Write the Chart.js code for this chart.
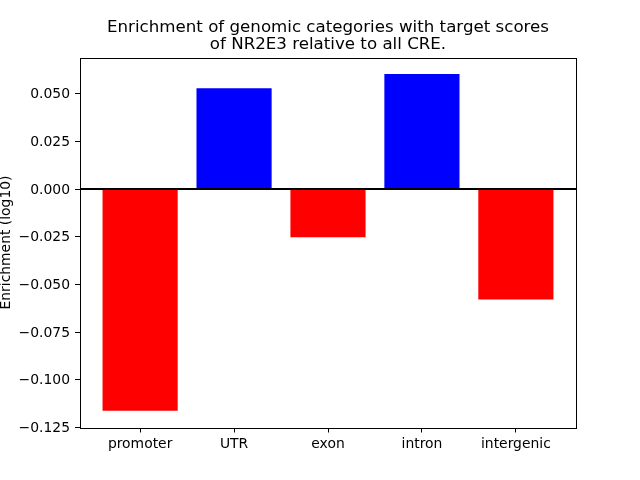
<!DOCTYPE html>
<html><head><meta charset="utf-8">
<script src="https://cdn.jsdelivr.net/npm/chart.js@4/dist/chart.umd.min.js"></script>
<style>html,body{margin:0;padding:0;background:#fff}canvas{display:block}</style>
</head><body>
<canvas id="c" width="640" height="480"></canvas>
<script>
const categories = ["promoter", "UTR", "exon", "intron", "intergenic"];
const values = [-0.1162, 0.0529, -0.0252, 0.0603, -0.0579];
const yTicks = [-0.125, -0.100, -0.075, -0.050, -0.025, 0.000, 0.025, 0.050];
const titleLines = ["Enrichment of genomic categories with target scores", "of NR2E3 relative to all CRE."];
const yLabel = "Enrichment (log10)";
const colors = values.map(v => v >= 0 ? "#0000ff" : "#ff0000");
const FONT = "'DejaVu Sans', sans-serif";

const frame = {
  id: 'frame',
  afterDatasetsDraw(chart) {
    const {ctx, chartArea: a, scales: {y}} = chart;
    ctx.save();
    const y0 = Math.round(y.getPixelForValue(0));
    ctx.strokeStyle = '#000';
    ctx.lineWidth = 2;
    ctx.beginPath(); ctx.moveTo(a.left, y0); ctx.lineTo(a.right, y0); ctx.stroke();
    ctx.lineWidth = 1;
    ctx.strokeRect(Math.round(a.left) + 0.5, Math.round(a.top) + 0.5, Math.round(a.right - a.left), Math.round(a.bottom - a.top));
    // title, centred over the plot area
    ctx.fillStyle = '#000';
    ctx.font = "16.67px " + FONT;
    ctx.textAlign = 'center';
    ctx.textBaseline = 'alphabetic';
    const cx = (a.left + a.right) / 2;
    ctx.fillText(titleLines[0], cx, 32);
    ctx.fillText(titleLines[1], cx, 48.5);
    ctx.restore();
  }
};

const fmt = v => {
  const s = Math.abs(v) < 1e-9 ? "0.000" : Math.abs(v).toFixed(3);
  return (v < -1e-9 ? "\u2212" : "") + s;
};

new Chart(document.getElementById('c'), {
  type: 'bar',
  data: {
    datasets: [{
      data: categories.map((c, i) => ({x: i, y: values[i]})),
      backgroundColor: colors,
      borderWidth: 0,
      categoryPercentage: 1.0,
      barPercentage: 0.8
    }]
  },
  options: {
    responsive: false,
    animation: false,
    devicePixelRatio: 1,
    layout: {padding: {left: 0, right: 64, top: 57.5, bottom: 0}},
    plugins: {
      legend: {display: false},
      tooltip: {enabled: false},
      title: {display: false}
    },
    scales: {
      x: {
        type: 'linear',
        min: -0.64,
        max: 4.64,
        offset: false,
        afterBuildTicks: s => { s.ticks = categories.map((c, i) => ({value: i})); },
        afterFit: s => { s.height = 52.5; },
        ticks: {
          callback: v => categories[v],
          color: '#000',
          font: {family: FONT, size: 13.9},
          autoSkip: false,
          maxRotation: 0,
          padding: 4
        },
        grid: {display: true, offset: false, drawOnChartArea: false, drawTicks: true, tickLength: 5, tickColor: '#000', tickWidth: 1},
        border: {display: false}
      },
      y: {
        type: 'linear',
        min: -0.125,
        max: 0.069,
        afterBuildTicks: s => { s.ticks = yTicks.map(v => ({value: v})); },
        afterFit: s => { s.width = 80; },
        ticks: {
          callback: v => fmt(v),
          color: '#000',
          font: {family: FONT, size: 13.9},
          padding: 5,
          labelOffset: 1
        },
        grid: {display: true, drawOnChartArea: false, drawTicks: true, tickLength: 5, tickColor: '#000', tickWidth: 1},
        border: {display: false},
        title: {
          display: true,
          text: yLabel,
          color: '#000',
          font: {family: FONT, size: 13.9, lineHeight: 1},
          padding: {top: -1, bottom: 0}
        }
      }
    }
  },
  plugins: [frame]
});
</script>
</body></html>
